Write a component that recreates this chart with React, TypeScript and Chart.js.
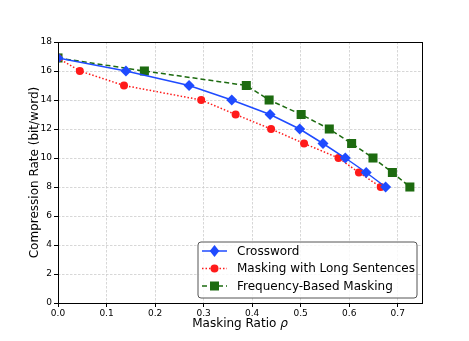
import React, { useEffect, useRef } from "react";
import { Chart, registerables } from "chart.js";

Chart.register(...registerables);

const crosswordX = [0, 0.14, 0.27, 0.358, 0.437, 0.498, 0.546, 0.592, 0.635, 0.675];
const crosswordY = [16.9, 16, 15, 14, 13, 12, 11, 10, 9, 8];
const longSentX = [0, 0.045, 0.136, 0.295, 0.366, 0.439, 0.507, 0.578, 0.62, 0.665];
const longSentY = [16.9, 16, 15, 14, 13, 12, 11, 10, 9, 8];
const freqX = [0, 0.178, 0.388, 0.435, 0.501, 0.559, 0.605, 0.649, 0.689, 0.725];
const freqY = [16.9, 16, 15, 14, 13, 12, 11, 10, 9, 8];

const xTicks = [0, 0.1, 0.2, 0.3, 0.4, 0.5, 0.6, 0.7];
const yTicks = [0, 2, 4, 6, 8, 10, 12, 14, 16, 18];
const X_MIN = 0;
const X_MAX = 0.75;
const Y_MIN = 0;
const Y_MAX = 18;

const seriesLabels = ["Crossword", "Masking with Long Sentences", "Frequency-Based Masking"];
const xTitle = "Masking Ratio ";
const xTitleSymbol = "ρ";
const yTitle = "Compression Rate (bit/word)";

const BLUE = "#1f4bff";
const RED = "#ff1a1a";
const GREEN = "#1d6b10";
const GRID = "rgba(205,205,205,0.8)";
const FONT = "'DejaVu Sans', sans-serif";

const toPts = (xs: number[], ys: number[]) => xs.map((x, i) => ({ x, y: ys[i] }));

function drawMarker(ctx: CanvasRenderingContext2D, style: string, x: number, y: number, color: string) {
  ctx.save();
  ctx.fillStyle = color;
  ctx.beginPath();
  if (style === "diamond") {
    const r = 6;
    ctx.moveTo(x, y - r);
    ctx.lineTo(x + r * 0.8, y);
    ctx.lineTo(x, y + r);
    ctx.lineTo(x - r * 0.8, y);
    ctx.closePath();
  } else if (style === "circle") {
    ctx.arc(x, y, 4, 0, Math.PI * 2);
  } else {
    ctx.rect(x - 4.5, y - 4.5, 9, 9);
  }
  ctx.fill();
  ctx.restore();
}

const framePlugin = {
  id: "frameAndExtras",
  afterDraw(chart: any) {
    const { ctx, chartArea } = chart;
    const { left, right, top, bottom } = chartArea;
    ctx.save();
    ctx.strokeStyle = "#000";
    ctx.lineWidth = 1;
    ctx.setLineDash([]);
    ctx.strokeRect(Math.round(left) + 0.5, Math.round(top) + 0.5, Math.round(right - left), Math.round(bottom - top));

    // axis titles
    ctx.fillStyle = "#000";
    ctx.font = `12px ${FONT}`;
    ctx.textBaseline = "middle";
    const w1 = ctx.measureText(xTitle).width;
    ctx.font = `italic 12px ${FONT}`;
    const w2 = ctx.measureText(xTitleSymbol).width;
    const cx = (left + right) / 2;
    const sx = cx - (w1 + w2) / 2;
    ctx.font = `12px ${FONT}`;
    ctx.textAlign = "left";
    ctx.fillText(xTitle, sx, 324);
    ctx.font = `italic 12px ${FONT}`;
    ctx.fillText(xTitleSymbol, sx + w1, 324);

    ctx.save();
    ctx.translate(35, (top + bottom) / 2);
    ctx.rotate(-Math.PI / 2);
    ctx.font = `12px ${FONT}`;
    ctx.textAlign = "center";
    ctx.fillText(yTitle, 0, 0);
    ctx.restore();

    // legend
    const lx = 198, ly = 242, lw = 219, lh = 56;
    ctx.beginPath();
    const r = 3;
    ctx.moveTo(lx + r, ly);
    ctx.arcTo(lx + lw, ly, lx + lw, ly + lh, r);
    ctx.arcTo(lx + lw, ly + lh, lx, ly + lh, r);
    ctx.arcTo(lx, ly + lh, lx, ly, r);
    ctx.arcTo(lx, ly, lx + lw, ly, r);
    ctx.closePath();
    ctx.fillStyle = "rgba(255,255,255,0.85)";
    ctx.fill();
    ctx.strokeStyle = "#555";
    ctx.lineWidth = 1;
    ctx.stroke();

    const rows = [
      { c: BLUE, dash: [] as number[], m: "diamond" },
      { c: RED, dash: [1.5, 2], m: "circle" },
      { c: GREEN, dash: [5, 3], m: "square" },
    ];
    rows.forEach((row, i) => {
      const y = 251 + i * 17.5;
      ctx.save();
      ctx.strokeStyle = row.c;
      ctx.lineWidth = 1.5;
      ctx.setLineDash(row.dash);
      ctx.beginPath();
      ctx.moveTo(202, y);
      ctx.lineTo(227, y);
      ctx.stroke();
      ctx.restore();
      drawMarker(ctx, row.m, 214.5, y, row.c);
      ctx.fillStyle = "#000";
      ctx.font = `12px ${FONT}`;
      ctx.textAlign = "left";
      ctx.textBaseline = "middle";
      ctx.fillText(seriesLabels[i], 237, y + 0.5);
    });
    ctx.restore();
  },
};

export default function App() {
  const ref = useRef<HTMLCanvasElement | null>(null);
  useEffect(() => {
    document.body.style.margin = "0";
    if (!ref.current) return;
    const chart = new Chart(ref.current, {
      type: "line",
      data: {
        datasets: [
          {
            label: seriesLabels[0],
            data: toPts(crosswordX, crosswordY),
            borderColor: BLUE,
            backgroundColor: BLUE,
            borderWidth: 1.5,
            pointStyle: "rectRot",
            pointRadius: 5.5,
            pointBorderWidth: 0,
            order: 1,
          },
          {
            label: seriesLabels[1],
            data: toPts(longSentX, longSentY),
            borderColor: RED,
            backgroundColor: RED,
            borderWidth: 1.5,
            borderDash: [1.5, 2],
            pointStyle: "circle",
            pointRadius: 4,
            pointBorderWidth: 0,
            order: 2,
          },
          {
            label: seriesLabels[2],
            data: toPts(freqX, freqY),
            borderColor: GREEN,
            backgroundColor: GREEN,
            borderWidth: 1.5,
            borderDash: [5, 3],
            pointStyle: "rect",
            pointRadius: 6.4,
            pointBorderWidth: 0,
            order: 3,
          },
        ],
      },
      options: {
        responsive: false,
        animation: false,
        layout: { padding: { top: 42, right: 47, left: 0, bottom: 0 } },
        plugins: { legend: { display: false }, tooltip: { enabled: false } },
        scales: {
          x: {
            type: "linear",
            min: X_MIN,
            max: X_MAX,
            bounds: "data",
            afterFit: (s: any) => { s.height = 38; },
            afterBuildTicks: (s: any) => {
              s.min = X_MIN;
              s.max = X_MAX;
              s.ticks = xTicks.map((v) => ({ value: v }));
            },
            ticks: {
              color: "#000",
              font: { family: FONT, size: 9 },
              padding: 1,
              maxRotation: 0,
              autoSkip: false,
              callback: (v: any) => Number(v).toFixed(1),
            },
            grid: {
              color: GRID,
              tickColor: "#000",
              tickLength: 4,
              tickBorderDash: [],
            } as any,
            border: { display: false, dash: [2.5, 1.5] },
          },
          y: {
            type: "linear",
            min: Y_MIN,
            max: Y_MAX,
            bounds: "data",
            afterFit: (s: any) => { s.width = 58; },
            afterBuildTicks: (s: any) => {
              s.min = Y_MIN;
              s.max = Y_MAX;
              s.ticks = yTicks.map((v) => ({ value: v }));
            },
            ticks: {
              color: "#000",
              font: { family: FONT, size: 9 },
              padding: 2,
              autoSkip: false,
            },
            grid: {
              color: GRID,
              tickColor: "#000",
              tickLength: 4,
              tickBorderDash: [],
            } as any,
            border: { display: false, dash: [2.5, 1.5] },
          },
        },
      },
      plugins: [framePlugin],
    });
    return () => chart.destroy();
  }, []);
  return (
    <div style={{ position: "absolute", left: 0, top: 0, width: 469, height: 341 }}>
      <canvas ref={ref} width={469} height={341} style={{ width: 469, height: 341 }} />
    </div>
  );
}
